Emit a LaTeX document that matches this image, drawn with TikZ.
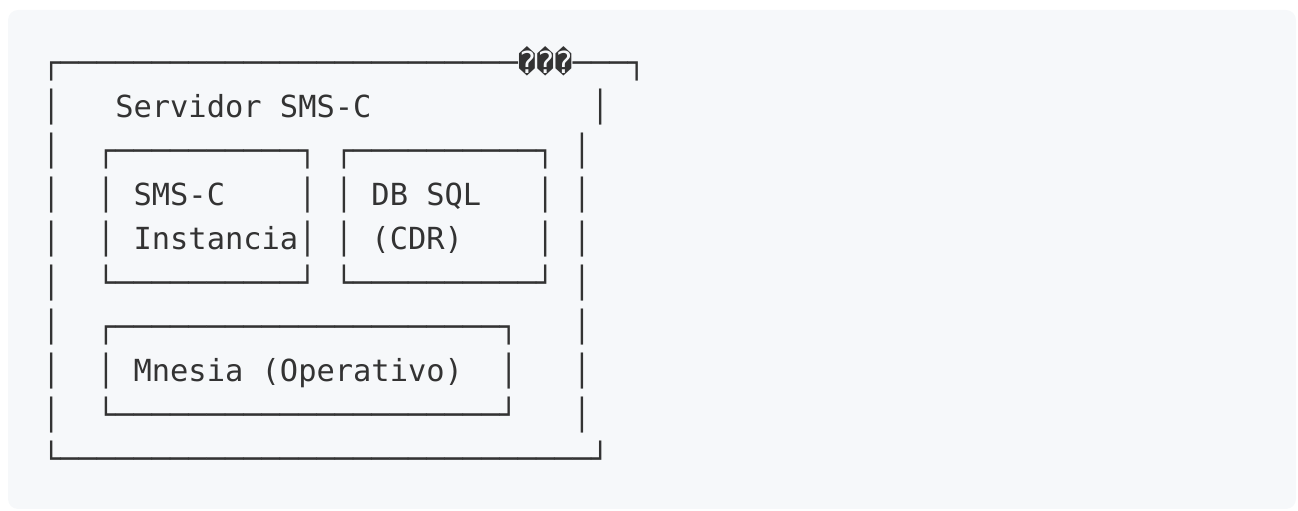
\documentclass[tikz,border=0pt]{standalone}
\usepackage{fontspec}
\newfontfamily\codefont{DejaVu Sans Mono}
\definecolor{cardbg}{HTML}{F6F8FA}
\definecolor{codeink}{HTML}{333333}

\begin{document}
\begin{tikzpicture}[x=1pt,y=1pt]
\tikzset{codeline/.style={anchor=base west, inner sep=0pt, text=codeink, font=\codefont\fontsize{30.4}{44}\selectfont}}

% Card behind the listing
\useasboundingbox (0,0) rectangle (1298,511);
\fill[cardbg, rounded corners=10pt] (8,2) rectangle (1296,501);

% Lines of the listing
\node[codeline] at (41.85, 437) (row1) {┌─────────────────────────���───┐};
\node[codeline] at (41.85, 393) (row2) {│~~~Servidor~SMS-C~~~~~~~~~~~~│};
\node[codeline] at (41.85, 349) (row3) {│~~┌──────────┐~┌──────────┐~│};
\node[codeline] at (41.85, 305) (row4) {│~~│~SMS-C~~~~│~│~DB~SQL~~~│~│};
\node[codeline] at (41.85, 261) (row5) {│~~│~Instancia│~│~(CDR)~~~~│~│};
\node[codeline] at (41.85, 217) (row6) {│~~└──────────┘~└──────────┘~│};
\node[codeline] at (41.85, 173) (row7) {│~~┌─────────────────────┐~~~│};
\node[codeline] at (41.85, 129) (row8) {│~~│~Mnesia~(Operativo)~~│~~~│};
\node[codeline] at (41.85, 85) (row9) {│~~└─────────────────────┘~~~│};
\node[codeline] at (41.85, 41) (row10) {└─────────────────────────────┘};
\end{tikzpicture}
\end{document}
